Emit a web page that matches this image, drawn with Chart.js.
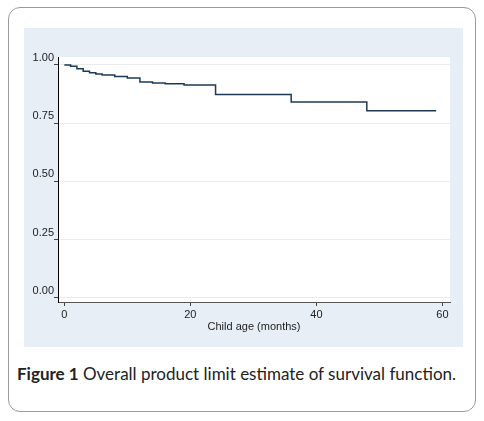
<!DOCTYPE html>
<html>
<head>
<meta charset="utf-8">
<script src="https://cdn.jsdelivr.net/npm/chart.js@4.4.1/dist/chart.umd.min.js"></script>
<style>
  body { margin: 0; background: #fff; width: 484px; height: 421px; position: relative; overflow: hidden; }
  #marco { position: absolute; left: 8px; top: 7px; width: 466px; height: 403px; border: 1.5px solid #9a9a9a; border-radius: 12px; }
  #panel { position: absolute; left: 24px; top: 28px; width: 439px; height: 319px; background: #e8eef6; }
  #pie { position: absolute; left: 17px; top: 363px; font-family: Lato, "Open Sans", sans-serif; font-size: 17px; color: #222; white-space: nowrap; }
</style>
</head>
<body>
<div id="marco"></div>
<div id="panel"><canvas id="supervivenciaCanvas" width="439" height="319"></canvas></div>
<div id="pie"><b>Figure 1</b> Overall product limit estimate of survival function.</div>

<script>
// tiempos (meses) y estimación Kaplan-Meier
var meses = [0, 1, 2, 3, 4, 5, 6, 8, 10, 12, 14, 16, 19, 24, 36, 48, 59];
var supervivencia = [1.000, 0.994, 0.984, 0.973, 0.966, 0.961, 0.957, 0.950, 0.944, 0.927, 0.922, 0.919, 0.914, 0.873, 0.841, 0.803, 0.803];
var ticksX = [0, 20, 40, 60];
var ticksY = [0, 0.25, 0.5, 0.75, 1];

const fondoBlanco = {
    id: 'fondoBlanco',
    beforeDraw(chart) {
        const a = chart.chartArea;
        chart.ctx.save();
        chart.ctx.fillStyle = '#ffffff';
        chart.ctx.fillRect(a.left, a.top, a.right - a.left, a.bottom - a.top);
        chart.ctx.restore();
    }
};

const ctx = document.getElementById('supervivenciaCanvas').getContext('2d');
new Chart(ctx, {
    type: 'line',
    data: {
        datasets: [{
            data: meses.map((m, i) => ({ x: m, y: supervivencia[i] })),
            stepped: 'before',
            borderColor: '#1c3a55',
            borderWidth: 1.5,
            pointRadius: 0,
            fill: false
        }]
    },
    options: {
        responsive: false,
        animation: false,
        layout: { padding: { top: 29, right: 13, left: 0, bottom: 0 } },
        plugins: { legend: { display: false }, tooltip: { enabled: false } },
        scales: {
            x: {
                type: 'linear',
                min: -1,
                max: 61.2,
                afterBuildTicks: axis => { axis.ticks = ticksX.map(v => ({ value: v })); },
                afterFit: axis => { axis.height = 45; },
                grid: { drawOnChartArea: false, drawTicks: true, tickLength: 4, tickColor: '#444' },
                border: { color: '#555', width: 1 },
                ticks: { color: '#222', padding: 2, maxRotation: 0, font: { family: 'Liberation Sans', size: 11 } },
                title: { display: true, text: 'Child age (months)', color: '#222', padding: { top: 0, bottom: 13 }, font: { family: 'Liberation Sans', size: 11 } }
            },
            y: {
                min: -0.018,
                max: 1.034,
                afterBuildTicks: axis => { axis.ticks = ticksY.map(v => ({ value: v })); },
                afterFit: axis => { axis.width = 34; },
                grid: { color: '#ebebeb', tickLength: 4, tickColor: '#444' },
                border: { color: '#000', width: 1 },
                ticks: {
                    color: '#222', padding: 0, labelOffset: -7,
                    font: { family: 'Liberation Sans', size: 11 },
                    callback: v => v.toFixed(2)
                }
            }
        }
    },
    plugins: [fondoBlanco]
});
</script>
</body>
</html>
